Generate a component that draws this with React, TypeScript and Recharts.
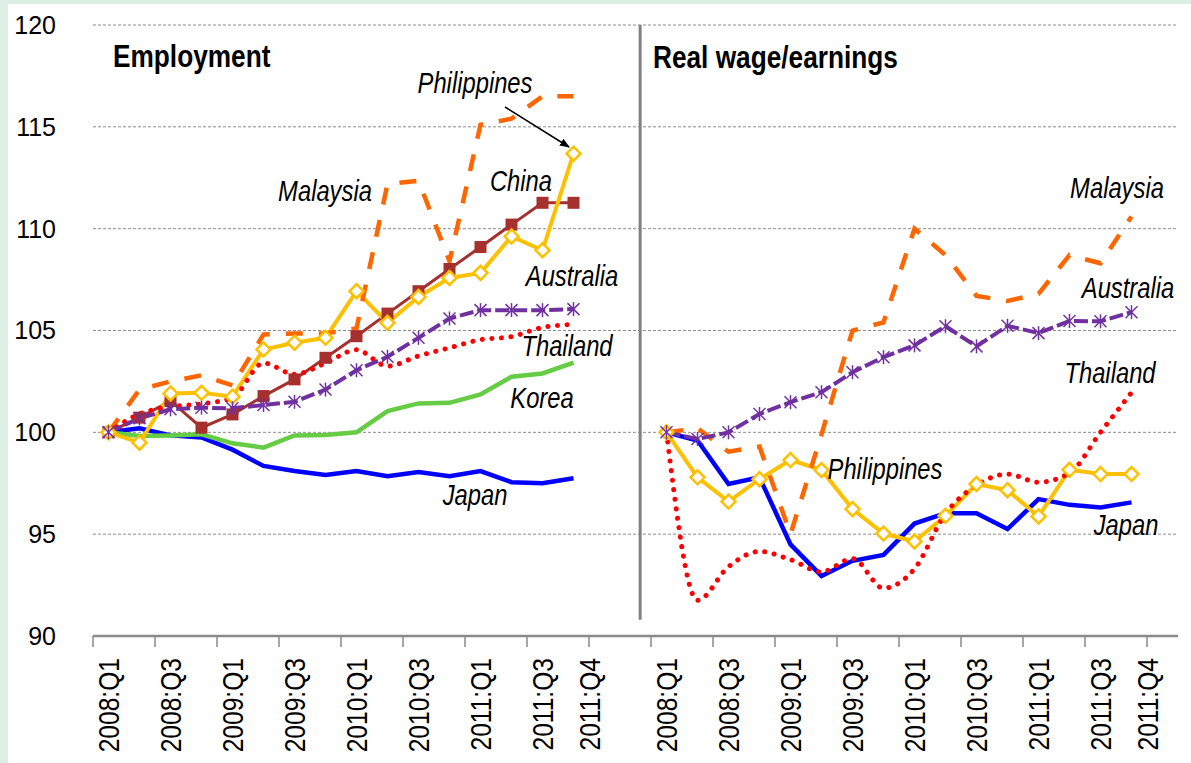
import React from "react";
import { LineChart, Line, XAxis, YAxis, CartesianGrid, ReferenceLine } from "recharts";

// quarters shown in each panel
const quarters = [
    "2008:Q1", "2008:Q2", "2008:Q3", "2008:Q4",
    "2009:Q1", "2009:Q2", "2009:Q3", "2009:Q4",
    "2010:Q1", "2010:Q2", "2010:Q3", "2010:Q4",
    "2011:Q1", "2011:Q2", "2011:Q3", "2011:Q4",
];
const yTicks = [90, 95, 100, 105, 110, 115, 120];

// Employment index (2008:Q1 = 100)
const japanEmp = [100, 100.2, 99.85, 99.75, 99.15, 98.35, 98.1, 97.9, 98.1, 97.85, 98.05, 97.85, 98.1, 97.55, 97.5, 97.75];
const koreaEmp = [100, 99.82, 99.85, 99.9, 99.46, 99.25, 99.85, 99.87, 100.0, 101.04, 101.42, 101.45, 101.86, 102.73, 102.89, 103.42];
const chinaEmp = [100, 100.72, 101.54, 100.23, 100.88, 101.78, 102.6, 103.66, 104.72, 105.83, 106.93, 108.02, 109.1, 110.2, 111.27, 111.27];
const philEmp = [100, 99.49, 101.91, 101.94, 101.75, 104.07, 104.4, 104.64, 106.93, 105.38, 106.65, 107.58, 107.83, 109.62, 108.94, 113.68];
const malayEmp = [100, 102.1, 102.5, 102.8, 102.3, 104.8, 104.85, 104.85, 105.1, 112.2, 112.35, 108.4, 115.1, 115.4, 116.5, 116.5];
const thaiEmp = [100, 100.9, 101.25, 101.4, 101.7, 103.4, 102.85, 103.4, 104.05, 103.25, 103.75, 104.15, 104.55, 104.7, 105.15, 105.3];
const ausEmp = [100, 100.69, 101.13, 101.21, 101.18, 101.34, 101.5, 102.1, 103.05, 103.71, 104.64, 105.59, 106.0, 106.0, 106.0, 106.05];

// Real wage / earnings index (2008:Q1 = 100)
const japanWage = [100, 99.6, 97.46, 97.79, 94.5, 92.95, 93.69, 93.98, 95.52, 96.03, 96.03, 95.25, 96.72, 96.44, 96.31, 96.56];
const philWage = [100, 97.79, 96.6, 97.7, 98.64, 98.15, 96.23, 95.03, 94.64, 95.9, 97.46, 97.16, 95.87, 98.16, 97.95, 97.95];
const malayWage = [100, 100.2, 99.05, 99.3, 95.0, 99.9, 105.0, 105.4, 110.0, 108.7, 106.7, 106.45, 106.8, 108.7, 108.3, 110.6];
const thaiWage = [100, 91.75, 93.4, 94.15, 93.75, 93.15, 93.8, 92.35, 93.3, 96.0, 97.4, 97.95, 97.55, 98.0, 100.0, 101.95];
const ausWage = [100, 99.67, 100.0, 100.9, 101.48, 101.97, 102.95, 103.69, 104.27, 105.21, 104.22, 105.23, 104.87, 105.47, 105.45, 105.9];

// category slots on the shared x axis: left panel, 2 empty, right panel, 1 empty
const LEFT_START = 0;
const RIGHT_START = 18;
const SLOTS = 35;
const DIVIDER_X = 17.65;

const rows: any[] = [];
for (let i = 0; i < SLOTS; i++) rows.push({ x: i + 0.5 });
quarters.forEach((q, i) => {
    Object.assign(rows[LEFT_START + i], {
        jpE: japanEmp[i], krE: koreaEmp[i], cnE: chinaEmp[i], phE: philEmp[i],
        myE: malayEmp[i], thE: thaiEmp[i], auE: ausEmp[i],
    });
    Object.assign(rows[RIGHT_START + i], {
        jpW: japanWage[i], phW: philWage[i], myW: malayWage[i], thW: thaiWage[i], auW: ausWage[i],
    });
});

const boundaryTicks: number[] = [];
for (let t = 0; t <= 16; t += 2) boundaryTicks.push(LEFT_START + t);
for (let t = 0; t <= 16; t += 2) boundaryTicks.push(RIGHT_START + t);

const W = 1191;
const H = 763;
const M = { top: 25, right: 13, left: 33, bottom: 0 };
const Y_W = 60;
const CAT_W = (W - M.left - Y_W - M.right) / SLOTS;

const SANS = '"Liberation Sans", Arial, sans-serif';
// no narrow face installed, so squeeze the regular one
const NARROW_SCALE = 0.82;

const COLORS = {
    japan: "#0000ff",
    korea: "#66cc44",
    china: "#a5302e",
    phil: "#ffc000",
    malay: "#ff6600",
    thai: "#ff0000",
    aus: "#7030a0",
};

function QuarterTick(props: any) {
    const { x, y, payload } = props;
    const t = payload.value;
    const base = t >= RIGHT_START ? RIGHT_START : LEFT_START;
    const idx = t - base;
    const last = idx >= quarters.length;
    const label = last ? quarters[quarters.length - 1] : quarters[idx];
    const dx = last ? 0 : CAT_W / 2;
    return (
        <text
            transform={`translate(${x + dx},${y}) rotate(-90) scale(${NARROW_SCALE},1)`}
            textAnchor="end"
            dy="0.36em"
            fontSize={30}
            fontFamily={SANS}
            fill="#000"
        >
            {label}
        </text>
    );
}

function NarrowText({ x, y, children, size = 29, italic = true, bold = false, anchor = "middle" }: any) {
    return (
        <text
            transform={`translate(${x},${y}) scale(${NARROW_SCALE},1)`}
            textAnchor={anchor}
            dominantBaseline="central"
            fontFamily={SANS}
            fontSize={size}
            fontStyle={italic ? "italic" : "normal"}
            fontWeight={bold ? "bold" : "normal"}
            fill="#000"
        >
            {children}
        </text>
    );
}

function SquareDot(props: any) {
    const { cx, cy, value, index } = props;
    if (cx == null || cy == null || value == null) return <g key={`s${index}`} />;
    return <rect key={`s${index}`} x={cx - 6} y={cy - 6} width={12} height={12} fill={COLORS.china} />;
}

function DiamondDot(props: any) {
    const { cx, cy, value, index } = props;
    if (cx == null || cy == null || value == null) return <g key={`d${index}`} />;
    const r = 7;
    return (
        <path
            key={`d${index}`}
            d={`M${cx},${cy - r} L${cx + r},${cy} L${cx},${cy + r} L${cx - r},${cy} Z`}
            fill="#fff"
            stroke={COLORS.phil}
            strokeWidth={2.5}
        />
    );
}

function StarDot(props: any) {
    const { cx, cy, value, index } = props;
    if (cx == null || cy == null || value == null) return <g key={`a${index}`} />;
    const r = 6;
    return (
        <g key={`a${index}`} stroke={COLORS.aus} strokeWidth={1.5}>
            <line x1={cx - r} y1={cy - r} x2={cx + r} y2={cy + r} />
            <line x1={cx - r} y1={cy + r} x2={cx + r} y2={cy - r} />
            <line x1={cx} y1={cy - r - 1} x2={cx} y2={cy + r + 1} />
        </g>
    );
}

export default function App() {
    return (
        <div style={{ position: "absolute", left: 0, top: 0, width: W, height: H, background: "#dcefe7" }}>
            <div style={{ position: "absolute", left: 8, top: 4, right: 0, bottom: 0, background: "#fff" }} />
            <div style={{ position: "absolute", left: 0, top: 0 }}>
                <LineChart width={W} height={H} data={rows} margin={M}>
                    <CartesianGrid vertical={false} stroke="#8c8c8c" strokeDasharray="3 2" />
                    <XAxis
                        dataKey="x"
                        type="number"
                        domain={[0, SLOTS]}
                        ticks={boundaryTicks}
                        interval={0}
                        height={127}
                        axisLine={{ stroke: "#8a8a8a", strokeWidth: 2.5 }}
                        tickLine={{ stroke: "#8a8a8a", strokeWidth: 1.5 }}
                        tickSize={11}
                        tickMargin={11}
                        tick={<QuarterTick />}
                    />
                    <YAxis
                        domain={[90, 120]}
                        ticks={yTicks}
                        width={Y_W}
                        axisLine={false}
                        tickLine={false}
                        tickSize={0}
                        tickMargin={37}
                        tick={{ fontSize: 25, fill: "#000", fontFamily: SANS }}
                    />
                    <ReferenceLine
                        segment={[{ x: DIVIDER_X, y: 120 }, { x: DIVIDER_X, y: 90.8 }]}
                        stroke="#808080"
                        strokeWidth={3}
                    />

                    <Line dataKey="jpE" stroke={COLORS.japan} strokeWidth={4.5} dot={false} activeDot={false} isAnimationActive={false} />
                    <Line dataKey="krE" stroke={COLORS.korea} strokeWidth={4.5} dot={false} activeDot={false} isAnimationActive={false} />
                    <Line dataKey="cnE" stroke={COLORS.china} strokeWidth={3} dot={SquareDot} activeDot={false} isAnimationActive={false} />
                    <Line dataKey="phE" stroke={COLORS.phil} strokeWidth={4} dot={DiamondDot} activeDot={false} isAnimationActive={false} />
                    <Line dataKey="myE" stroke={COLORS.malay} strokeWidth={4.5} strokeDasharray="17 16" dot={false} activeDot={false} isAnimationActive={false} />
                    <Line dataKey="thE" type="monotone" stroke={COLORS.thai} strokeWidth={5} strokeDasharray="0.1 9.5" strokeLinecap="round" dot={false} activeDot={false} isAnimationActive={false} />
                    <Line dataKey="auE" stroke={COLORS.aus} strokeWidth={4} strokeDasharray="14 4" dot={StarDot} activeDot={false} isAnimationActive={false} />

                    <Line dataKey="jpW" stroke={COLORS.japan} strokeWidth={4.5} dot={false} activeDot={false} isAnimationActive={false} />
                    <Line dataKey="phW" stroke={COLORS.phil} strokeWidth={4} dot={DiamondDot} activeDot={false} isAnimationActive={false} />
                    <Line dataKey="myW" stroke={COLORS.malay} strokeWidth={4.5} strokeDasharray="17 16" dot={false} activeDot={false} isAnimationActive={false} />
                    <Line dataKey="thW" type="monotone" stroke={COLORS.thai} strokeWidth={5} strokeDasharray="0.1 9.5" strokeLinecap="round" dot={false} activeDot={false} isAnimationActive={false} />
                    <Line dataKey="auW" stroke={COLORS.aus} strokeWidth={4} strokeDasharray="14 4" dot={StarDot} activeDot={false} isAnimationActive={false} />
                </LineChart>
            </div>
            <svg width={W} height={H} style={{ position: "absolute", left: 0, top: 0, pointerEvents: "none" }}>
                <defs>
                    <marker id="arrowHead" markerWidth="10" markerHeight="10" refX="9" refY="5" orient="auto" markerUnits="userSpaceOnUse">
                        <path d="M0,1 L10,5 L0,9 Z" fill="#000" />
                    </marker>
                </defs>
                <NarrowText x={113} y={56} size={32} italic={false} bold anchor="start">Employment</NarrowText>
                <NarrowText x={653} y={57} size={32} italic={false} bold anchor="start">Real wage/earnings</NarrowText>

                <NarrowText x={475} y={83}>Philippines</NarrowText>
                <NarrowText x={325} y={191}>Malaysia</NarrowText>
                <NarrowText x={521} y={181}>China</NarrowText>
                <NarrowText x={572} y={276}>Australia</NarrowText>
                <NarrowText x={567} y={346}>Thailand</NarrowText>
                <NarrowText x={542} y={398}>Korea</NarrowText>
                <NarrowText x={475} y={495}>Japan</NarrowText>

                <NarrowText x={1117} y={188}>Malaysia</NarrowText>
                <NarrowText x={1128} y={288}>Australia</NarrowText>
                <NarrowText x={1110} y={373}>Thailand</NarrowText>
                <NarrowText x={885} y={469}>Philippines</NarrowText>
                <NarrowText x={1126} y={525}>Japan</NarrowText>

                <line x1={505} y1={107} x2={569} y2={147} stroke="#000" strokeWidth={1.5} markerEnd="url(#arrowHead)" />
            </svg>
        </div>
    );
}
